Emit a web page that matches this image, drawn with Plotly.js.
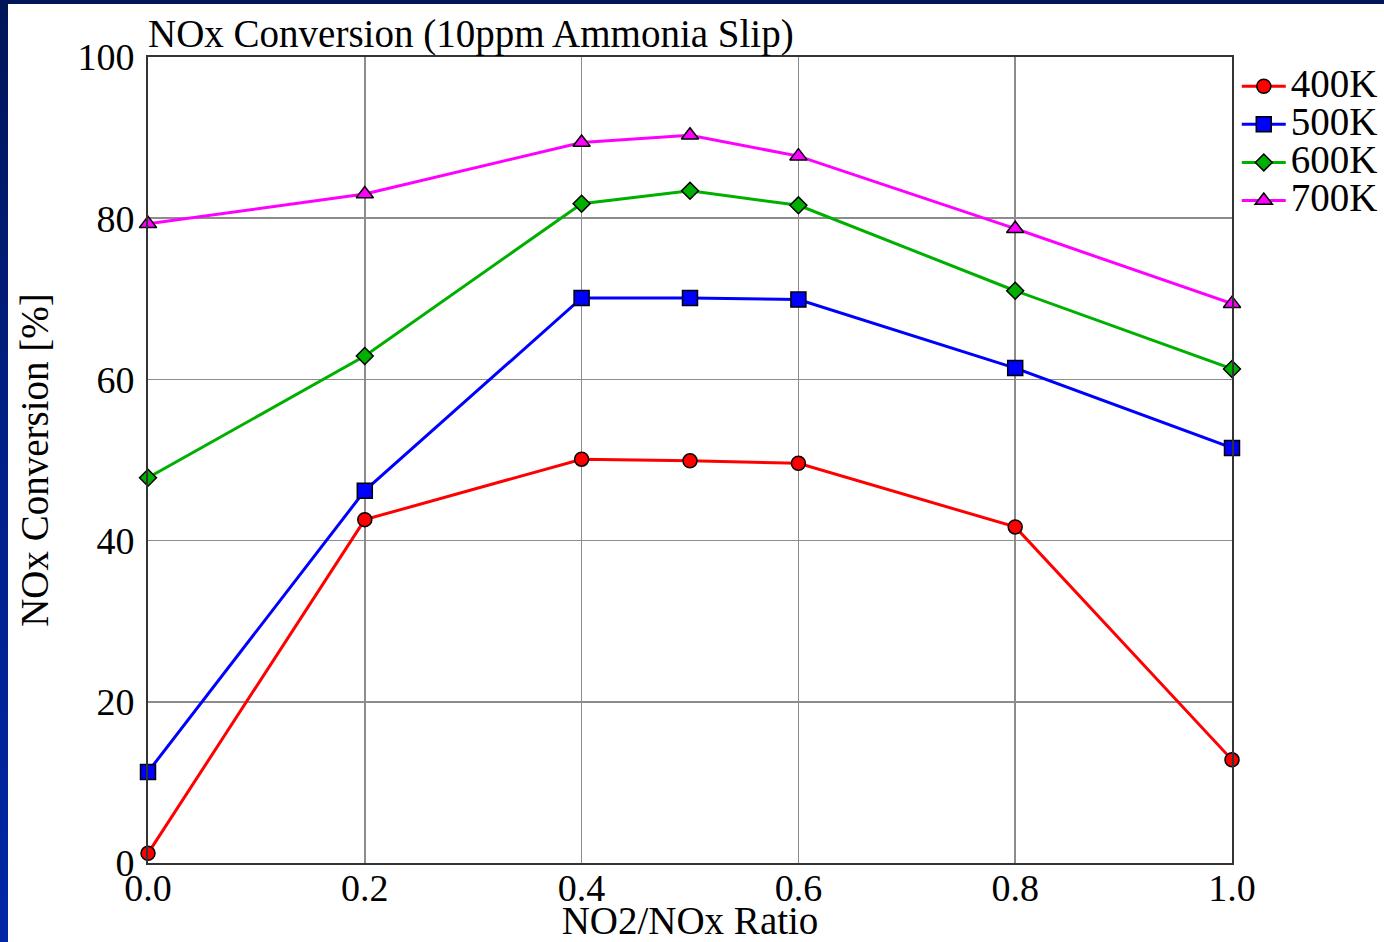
<!DOCTYPE html>
<html>
<head>
<meta charset="utf-8">
<script src="https://cdn.plot.ly/plotly-3.0.1.min.js"></script>
<style>
  html, body { margin: 0; padding: 0; width: 1384px; height: 942px; overflow: hidden;
    background: linear-gradient(to bottom, #001658 0%, #00208a 50%, #0028a6 100%); }
  #chart { position: absolute; left: 8px; top: 4px; width: 1376px; height: 938px; background: #fff; }
</style>
</head>
<body>
<div id="chart"></div>
<script>
const ratio = [0.0, 0.2, 0.4, 0.5, 0.6, 0.8, 1.0];
const seriesNames = ["400K", "500K", "600K", "700K"];
const conv400 = [1.2, 42.6, 50.1, 49.9, 49.6, 41.7, 12.8];
const conv500 = [11.3, 46.2, 70.1, 70.1, 69.9, 61.4, 51.5];
const conv600 = [47.8, 62.9, 81.8, 83.4, 81.6, 71.0, 61.3];
const conv700 = [79.3, 83.0, 89.4, 90.3, 87.7, 78.7, 69.4];
const xTickVals = [0.0, 0.2, 0.4, 0.6, 0.8, 1.0];
const xTickText = ["0.0", "0.2", "0.4", "0.6", "0.8", "1.0"];
const yTickVals = [0, 20, 40, 60, 80, 100];

const colors = ["#ff0000", "#0000ff", "#00b000", "#ff00ff"];
const symbols = ["circle", "square", "diamond", "triangle-up"];
const sizes = [14, 15, 13, 15];
const values = [conv400, conv500, conv600, conv700];

const FONT = "Liberation Serif, Times New Roman, serif";

const traces = values.map((v, i) => ({
  x: ratio, y: v,
  name: "<span style='font-size:39px'>" + seriesNames[i] + "</span>",
  type: "scatter", mode: "lines+markers",
  line: { color: colors[i], width: 3 },
  marker: { symbol: symbols[i], size: sizes[i], color: colors[i], line: { color: "#000", width: 1.5 } },
  cliponaxis: false
}));

const layout = {
  width: 1376, height: 938,
  paper_bgcolor: "#ffffff", plot_bgcolor: "#ffffff",
  margin: { l: 140, r: 152, t: 53, b: 79 },
  font: { family: FONT, size: 38, color: "#000" },
  title: { text: "NOx Conversion (10ppm Ammonia Slip)", xref: "paper", x: 0, xanchor: "left",
    yref: "container", y: 0.969, yanchor: "middle", font: { family: FONT, size: 39, color: "#000" } },
  xaxis: {
    range: [0, 1.0], tickvals: xTickVals, ticktext: xTickText, ticks: "",
    ticklabelstandoff: -10,
    showgrid: true, gridcolor: "#8c8c8c", gridwidth: 1.5,
    showline: true, linecolor: "#333", linewidth: 2, mirror: true, zeroline: false,
    tickfont: { family: FONT, size: 38 },
    title: { text: "NO2/NOx Ratio", font: { family: FONT, size: 39 }, standoff: 16 }
  },
  yaxis: {
    range: [0, 100], tickvals: yTickVals, ticks: "",
    ticklabelstandoff: 4,
    showgrid: true, gridcolor: "#8c8c8c", gridwidth: 1.5,
    showline: true, linecolor: "#333", linewidth: 2, mirror: true, zeroline: false,
    tickfont: { family: FONT, size: 38 },
    title: { text: "NOx Conversion [%]", font: { family: FONT, size: 39 }, standoff: 17 }
  },
  legend: { xref: "container", yref: "container", x: 0.893, xanchor: "left", y: 0.938, yanchor: "top",
    bgcolor: "rgba(0,0,0,0)", font: { family: FONT, size: 27 }, itemwidth: 44, tracegroupgap: 0 },
  showlegend: true
};

Plotly.newPlot("chart", traces, layout, { displayModeBar: false, staticPlot: true });
</script>
</body>
</html>
